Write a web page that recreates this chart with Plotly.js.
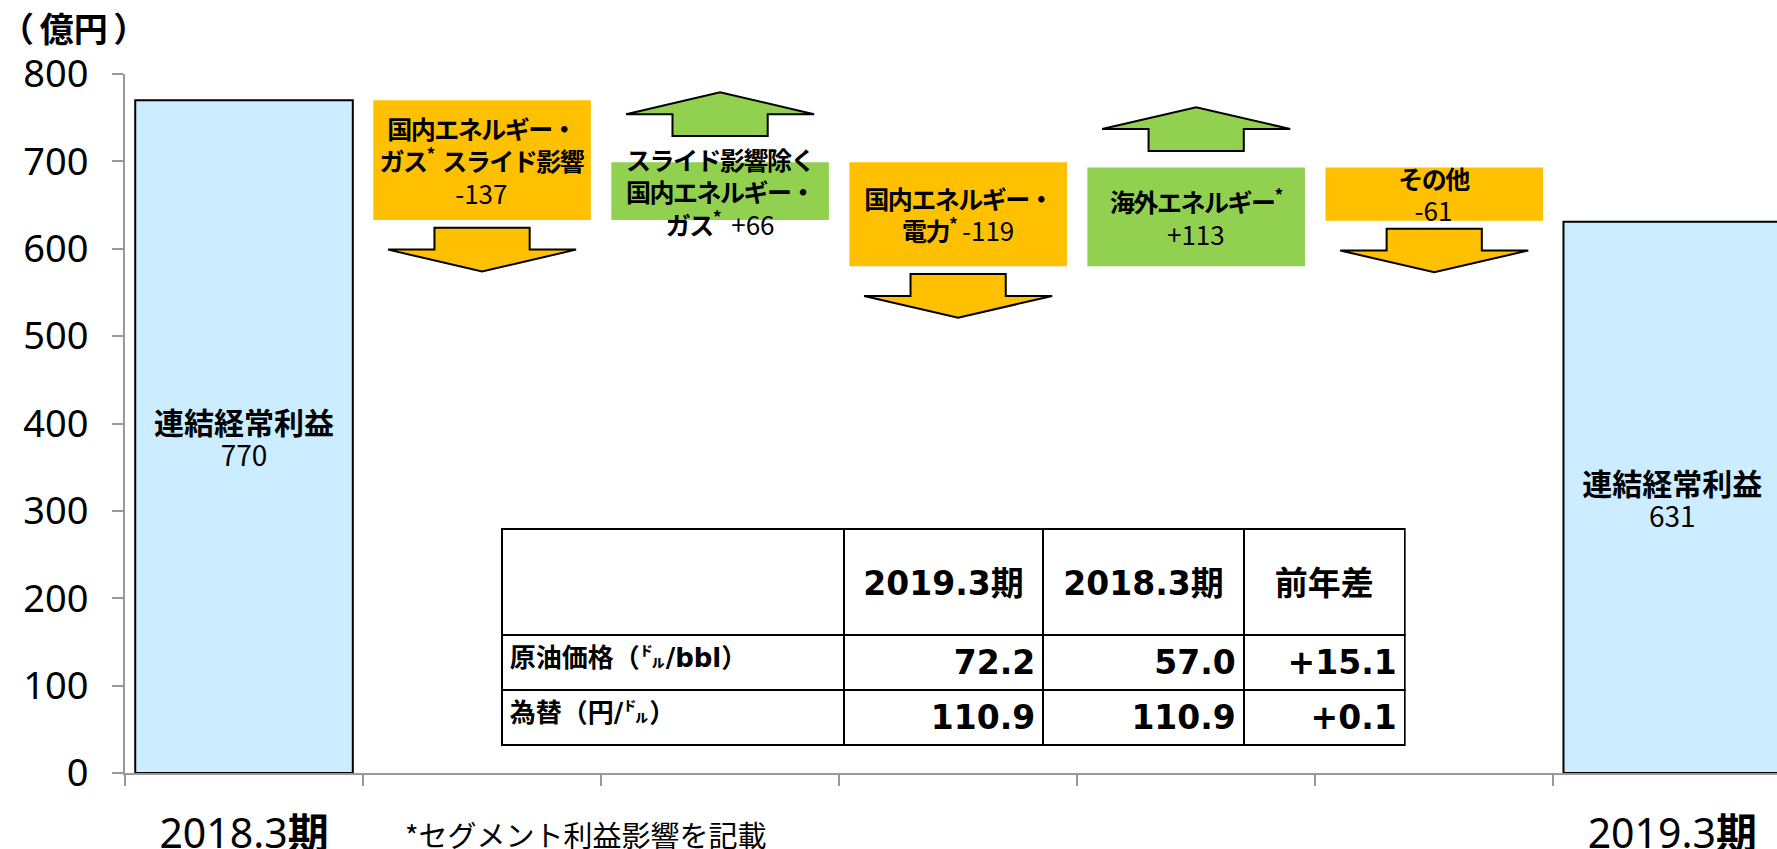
<!DOCTYPE html>
<html>
<head>
<meta charset="utf-8">
<script src="https://cdn.plot.ly/plotly-3.0.1.min.js"></script>
<style>
html, body { margin: 0; padding: 0; background: #fff; }
#chart { width: 1777px; height: 849px; }
</style>
</head>
<body>
<div id="chart"></div>
<script>
// bridge of 連結経常利益, 2018.3期 -> 2019.3期 (億円)
var stepNames = [
	'連結経常利益',
	'国内エネルギー・<br>ガス<sup>*</sup>&nbsp; スライド影響',
	'スライド影響除く<br>国内エネルギー・<br>ガス<sup>*</sup>',
	'国内エネルギー・<br>電力<sup>*</sup>',
	'海外エネルギー<sup>*</sup>',
	'その他',
	'連結経常利益'
];
var stepValues = [770, -137, 66, -119, 113, -61, 631];
var stepMeasure = ['absolute', 'relative', 'relative', 'relative', 'relative', 'relative', 'absolute'];
var periodLabels = ['2018.3<b>期</b>', '2019.3<b>期</b>'];

// table
var tableHeader = ['', '2019.3期', '2018.3期', '前年差'];
var rowLabels = ['原油価格（㌦/bbl）', '為替（円/㌦）'];
var fy2019 = [72.2, 110.9];
var fy2018 = [57.0, 110.9];
var yoy = [15.1, 0.1];

var footnote = '*セグメント利益影響を記載';

// colours / look
var orange = '#FFC000';
var green = '#92D050';
var blue = '#CCECFF';
var axisGrey = '#999999';
var jp = 'Noto Sans CJK JP';
var tableFont = 'DejaVu Sans, Noto Sans CJK JP';

// name and number on same line or not
var nameJoin = ['<br>', '<br>', '&nbsp;&nbsp;', '&nbsp;', '<br>', '<br>', '<br>'];
// gap between box and arrow, in axis units
var arrowGap = [0, 9, 30, 9, 19, 9, 0];
var arrowLen = 50;
var headHalf = 0.395;
var shaftHalf = 0.2;

var xs = [];
var labels = [];
for (var i = 0; i < stepValues.length; i++) {
	xs.push(i);
	var v = stepValues[i];
	var num = (stepMeasure[i] == 'relative' && v > 0 ? '+' : '') + v;
	if (stepMeasure[i] == 'absolute') {
		labels.push('<span style="font-size:30px"><b>' + stepNames[i] + '</b></span><br><span style="font-size:28px">' + num + '</span>');
	} else {
		labels.push('<b><span style="letter-spacing:-1.5px">' + stepNames[i] + '</span></b>' + nameJoin[i] +
			'<span style="font-size:26px">' + num + '</span>');
	}
}

var bridge = {
	type: 'waterfall',
	x: xs,
	y: stepValues,
	measure: stepMeasure,
	width: 0.914,
	text: labels,
	textposition: 'inside',
	insidetextanchor: 'middle',
	constraintext: 'none',
	textangle: 0,
	textfont: { family: jp, size: 25, color: '#000' },
	hoverinfo: 'none',
	connector: { visible: false },
	increasing: { marker: { color: green, line: { width: 0 } } },
	decreasing: { marker: { color: orange, line: { width: 0 } } },
	totals: { marker: { color: blue, line: { color: '#000', width: 2 } } }
};

// arrows under / over each step box
var shapes = [];
var run = 0;
for (var i = 0; i < stepValues.length; i++) {
	if (stepMeasure[i] == 'absolute') {
		run = stepValues[i];
		continue;
	}
	run += stepValues[i];
	var dir = stepValues[i] < 0 ? -1 : 1;
	var y0 = run + dir * arrowGap[i];
	var y1 = y0 + dir * arrowLen / 2;
	var y2 = y0 + dir * arrowLen;
	var p = 'M' + (i - shaftHalf) + ',' + y0 +
		' L' + (i + shaftHalf) + ',' + y0 +
		' L' + (i + shaftHalf) + ',' + y1 +
		' L' + (i + headHalf) + ',' + y1 +
		' L' + i + ',' + y2 +
		' L' + (i - headHalf) + ',' + y1 +
		' L' + (i - shaftHalf) + ',' + y1 + ' Z';
	shapes.push({
		type: 'path',
		xref: 'x',
		yref: 'y',
		path: p,
		fillcolor: dir < 0 ? orange : green,
		line: { color: '#000', width: 2 }
	});
}

function signed(v) {
	return '+' + v.toFixed(1);
}

// small blank first line pushes the header text down to the middle of the cell
var table = {
	type: 'table',
	domain: { x: [0.228, 0.775], y: [0.02, 0.349] },
	columnwidth: [302, 176, 177, 142],
	header: {
		values: tableHeader.map(function (h) {
			return h ? '&nbsp;<br><span style="font-size:33px"><b>' + h + '</b></span>' : '';
		}),
		height: 106,
		align: 'center',
		line: { color: '#000', width: 2 },
		fill: { color: '#fff' },
		font: { family: tableFont, size: 26, color: '#000' }
	},
	cells: {
		values: [
			rowLabels.map(function (s) { return '<b>' + s + '</b>'; }),
			fy2019.map(function (v) { return '<b>' + v.toFixed(1) + '</b>'; }),
			fy2018.map(function (v) { return '<b>' + v.toFixed(1) + '</b>'; }),
			yoy.map(function (v) { return '<b>' + signed(v) + '</b>'; })
		],
		height: 52,
		align: ['left', 'right', 'right', 'right'],
		line: { color: '#000', width: 2 },
		fill: { color: '#fff' },
		font: {
			family: tableFont,
			size: [26, 33, 33, 33],
			color: '#000'
		}
	}
};

var layout = {
	width: 1777,
	height: 849,
	margin: { l: 125, r: 0, t: 74, b: 76 },
	paper_bgcolor: '#fff',
	plot_bgcolor: '#fff',
	font: { family: jp, color: '#000' },
	showlegend: false,
	title: {
		text: '<b>（\u2006億円\u2006）</b>',
		font: { family: jp, size: 34, color: '#000' },
		xref: 'container',
		x: 0,
		xanchor: 'left',
		yref: 'container',
		y: 0.965,
		yanchor: 'middle'
	},
	xaxis: {
		range: [-0.5, 6.44],
		tickmode: 'array',
		tickvals: [0, 6],
		ticktext: periodLabels,
		ticks: '',
		showline: true,
		linecolor: axisGrey,
		linewidth: 2,
		showgrid: false,
		zeroline: false,
		tickfont: { family: 'Noto Sans, ' + jp, size: 41, color: '#000' },
		ticklabelstandoff: 24,
		minor: {
			tickmode: 'linear',
			tick0: -0.5,
			dtick: 1,
			ticks: 'outside',
			ticklen: 11,
			tickwidth: 2,
			tickcolor: axisGrey,
			showgrid: false
		}
	},
	yaxis: {
		range: [0, 800],
		tickmode: 'linear',
		tick0: 0,
		dtick: 100,
		ticks: 'outside',
		ticklen: 11,
		tickwidth: 2,
		tickcolor: axisGrey,
		showline: true,
		linecolor: axisGrey,
		linewidth: 2,
		showgrid: false,
		zeroline: false,
		tickfont: { family: 'Noto Sans', size: 38, color: '#000' },
		ticklabelstandoff: 16
	},
	shapes: shapes,
	annotations: [{
		text: footnote,
		xref: 'paper',
		yref: 'paper',
		x: 0.168,
		y: -0.087,
		xanchor: 'left',
		yanchor: 'middle',
		showarrow: false,
		font: { family: jp, size: 29, color: '#000' }
	}]
};

Plotly.newPlot('chart', [bridge, table], layout, { displayModeBar: false, staticPlot: true });
</script>
</body>
</html>
